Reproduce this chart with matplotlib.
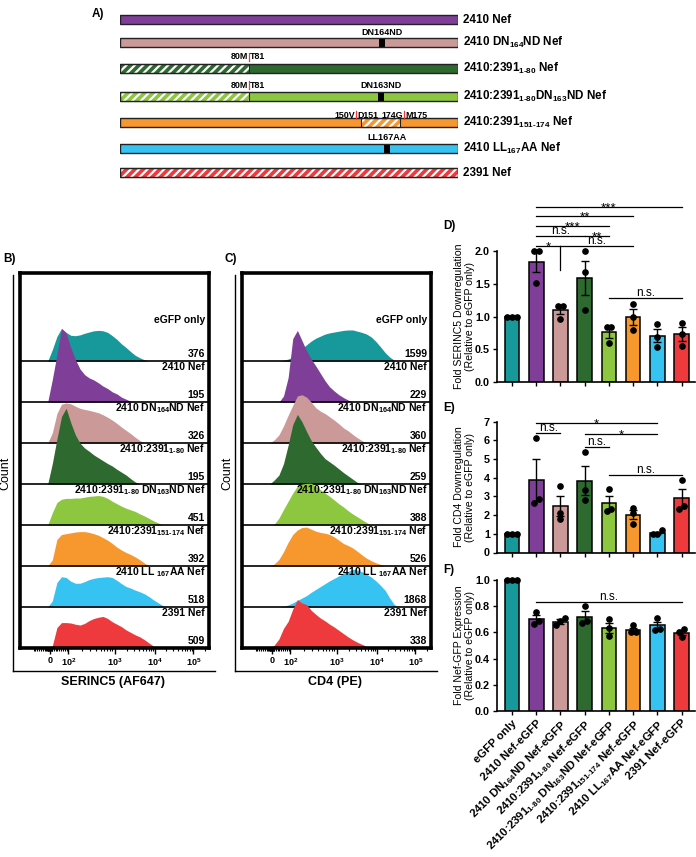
import numpy as np
import matplotlib
matplotlib.use('Agg')
import matplotlib.pyplot as plt
from matplotlib import font_manager
from matplotlib.patches import Rectangle

W, H = 696, 857

names = {f.name for f in font_manager.fontManager.ttflist}
FONT = 'Liberation Sans' if 'Liberation Sans' in names else 'DejaVu Sans'
plt.rcParams['font.family'] = [FONT, 'DejaVu Sans']
plt.rcParams['font.weight'] = 'bold'
plt.rcParams['mathtext.fontset'] = 'custom'
plt.rcParams['mathtext.rm'] = FONT + ':bold'
plt.rcParams['mathtext.bf'] = FONT + ':bold'
plt.rcParams['mathtext.it'] = FONT + ':bold'
plt.rcParams['mathtext.default'] = 'bf'
plt.rcParams['hatch.linewidth'] = 1.6

# ---------------- data ----------------
COLORS = ['#17989a', '#7f3f98', '#cc9999', '#2e6a30', '#8dc63f', '#f7982f', '#36c3f1', '#ee3a3c']

# panel A: Nef constructs (amino-acid coordinates)
NEF_LEN = 210
A_LABELS = ['2410 Nef', '2410 DN$_{164}$ND Nef', '2410:2391$_{1\\text{-}80}$ Nef',
            '2410:2391$_{1\\text{-}80}$DN$_{163}$ND Nef', '2410:2391$_{151\\text{-}174}$ Nef',
            '2410 LL$_{167}$AA Nef', '2391 Nef']
A_HATCH = [None, None, (0, 80), (0, 80), (150, 174), None, (0, 210)]
A_MUT = [None, (163, 'DN164ND'), None, (162, 'DN163ND'), None, (166, 'LL167AA'), None]
A_JUNCTIONS = [[], [], [(80, '80M', 'T81')], [(80, '80M', 'T81')],
               [(150, '150V', 'D151'), (174, '174G', 'M175')], [], []]

# panels B/C: histogram heights (fraction of one lane) on a display-channel grid
CH = [150, 175, 200, 225, 250, 275, 300, 325, 350, 375, 400, 425, 450, 475, 500,
      525, 550, 575, 600, 625, 650, 675, 700, 725, 750, 775, 800, 825, 850]

SER_EGFP = [0, 0.28, 0.6, 0.8, 0.7, 0.63, 0.62, 0.64, 0.68, 0.71, 0.74, 0.75, 0.74, 0.7, 0.62,
            0.53, 0.42, 0.33, 0.23, 0.14, 0.08, 0.03, 0]
SER_2410 = [0, 0.55, 1.16, 1.79, 1.69, 1.33, 1.04, 0.81, 0.67, 0.59, 0.54, 0.47, 0.39, 0.33, 0.25,
            0.2, 0.12, 0.07, 0.02, 0]
SER_DN164 = [0, 0.25, 0.72, 0.95, 0.98, 0.96, 0.9, 0.85, 0.82, 0.8, 0.77, 0.74, 0.69, 0.63, 0.56,
             0.48, 0.39, 0.31, 0.23, 0.14, 0.06, 0]
SER_1_80 = [0, 0.5, 1.1, 1.65, 1.85, 1.5, 1.2, 1.0, 0.88, 0.8, 0.71, 0.64, 0.57, 0.5, 0.44,
            0.36, 0.29, 0.22, 0.13, 0.05, 0]
SER_DN163 = [0, 0.3, 0.55, 0.63, 0.65, 0.65, 0.66, 0.66, 0.68, 0.7, 0.71, 0.72, 0.7, 0.65, 0.58,
             0.52, 0.46, 0.41, 0.37, 0.33, 0.27, 0.22, 0.16, 0.1, 0.05, 0]
SER_151 = [0, 0.15, 0.65, 0.77, 0.79, 0.81, 0.83, 0.84, 0.84, 0.82, 0.79, 0.75, 0.69, 0.63, 0.55,
           0.46, 0.39, 0.33, 0.28, 0.22, 0.15, 0.07, 0]
SER_LL = [0, 0.15, 0.6, 0.74, 0.72, 0.63, 0.58, 0.58, 0.62, 0.67, 0.7, 0.72, 0.73, 0.74, 0.72,
          0.65, 0.57, 0.5, 0.46, 0.41, 0.37, 0.32, 0.25, 0.17, 0.1, 0.03, 0]
SER_2391 = [0, 0.05, 0.5, 0.62, 0.62, 0.61, 0.58, 0.56, 0.6, 0.67, 0.72, 0.75, 0.77, 0.72, 0.64,
            0.58, 0.52, 0.44, 0.38, 0.32, 0.27, 0.2, 0.12, 0.04, 0]

CD4_EGFP = [0, 0, 0, 0.02, 0.05, 0.1, 0.18, 0.3, 0.4, 0.49, 0.56, 0.61, 0.66, 0.69, 0.71,
            0.73, 0.75, 0.76, 0.76, 0.73, 0.7, 0.66, 0.59, 0.48, 0.35, 0.21, 0.1, 0.02, 0]
CD4_2410 = [0, 0, 0, 0.15, 0.6, 1.55, 1.75, 1.5, 1.25, 1.05, 0.88, 0.7, 0.52, 0.37, 0.27,
            0.18, 0.11, 0.05, 0]
CD4_DN164 = [0, 0.08, 0.2, 0.42, 0.68, 0.92, 1.15, 1.18, 1.12, 1.0, 0.86, 0.78, 0.72, 0.64, 0.56,
             0.47, 0.37, 0.3, 0.21, 0.13, 0.06, 0]
CD4_1_80 = [0, 0.1, 0.22, 0.5, 0.95, 1.45, 1.7, 1.52, 1.28, 1.06, 0.9, 0.75, 0.62, 0.54, 0.46,
            0.37, 0.28, 0.2, 0.12, 0.04, 0]
CD4_DN163 = [0, 0.02, 0.17, 0.38, 0.58, 0.78, 0.95, 1.0, 1.02, 1.02, 0.95, 0.86, 0.78, 0.7, 0.61,
             0.52, 0.44, 0.35, 0.27, 0.2, 0.13, 0.06, 0]
CD4_151 = [0, 0.05, 0.16, 0.35, 0.58, 0.77, 0.88, 0.94, 0.95, 0.9, 0.85, 0.82, 0.8, 0.77, 0.71,
           0.63, 0.55, 0.5, 0.44, 0.36, 0.27, 0.19, 0.13, 0.08, 0.04, 0]
CD4_LL = [0, 0, 0, 0.02, 0.05, 0.1, 0.16, 0.22, 0.28, 0.36, 0.43, 0.5, 0.57, 0.64, 0.7,
          0.76, 0.82, 0.87, 0.92, 0.9, 0.86, 0.8, 0.73, 0.64, 0.53, 0.41, 0.22, 0.06, 0]
CD4_2391 = [0, 0.07, 0.22, 0.48, 0.65, 0.95, 1.18, 1.1, 1.06, 0.92, 0.82, 0.73, 0.66, 0.58, 0.51,
            0.43, 0.35, 0.27, 0.2, 0.14, 0.09, 0.04, 0]

LANE_LABELS = ['eGFP only', '2410 Nef', '2410 DN$_{164}$ND Nef', '2410:2391$_{1\\text{-}80}$ Nef',
               '2410:2391$_{1\\text{-}80}$ DN$_{163}$ND Nef', '2410:2391$_{151\\text{-}174}$ Nef',
               '2410 LL $_{167}$AA Nef', '2391 Nef']
SER_MFI = [376, 195, 326, 195, 451, 392, 518, 509]
CD4_MFI = [1599, 229, 360, 259, 388, 526, 1868, 338]

# panels D/E/F: replicate values
BAR_LABELS = ['eGFP only', '2410 Nef-eGFP', '2410 DN$_{164}$ND Nef-eGFP',
              '2410:2391$_{1\\text{-}80}$ Nef-eGFP', '2410:2391$_{1\\text{-}80}$ DN$_{163}$ND Nef-eGFP',
              '2410:2391$_{151\\text{-}174}$ Nef-eGFP', '2410 LL$_{167}$AA Nef-eGFP', '2391 Nef-eGFP']
SER_PTS = [[1.0, 1.0, 1.0], [2.0, 2.0, 1.52], [1.17, 1.16, 0.97], [2.0, 1.68, 1.10],
           [0.845, 0.84, 0.6], [1.2, 1.0, 0.79], [0.89, 0.69, 0.54], [0.91, 0.74, 0.55]]
CD4_PTS = [[1.0, 1.0, 1.0], [6.1, 2.85, 2.67], [3.57, 2.1, 1.8], [5.38, 3.35, 2.79],
           [3.38, 2.3, 2.2], [2.4, 2.1, 1.55], [1.18, 1.0, 1.0], [3.87, 2.5, 2.3]]
NEF_PTS = [[1.0, 1.0, 1.0], [0.756, 0.69, 0.667], [0.71, 0.685, 0.654], [0.80, 0.69, 0.67],
           [0.70, 0.636, 0.57], [0.654, 0.60, 0.60], [0.71, 0.63, 0.62], [0.628, 0.60, 0.564]]

SER_SIG = [(1, 7, 2.68, '***'), (1, 5, 2.54, '**'), (1, 4, 2.39, '***'), (1, 3, 2.23, 'n.s.'),
           (3, 4, 2.23, '**'), (1, 2, 2.08, '*'), (2, 5, 2.08, 'n.s.'), (4, 7, 1.29, 'n.s.')]
CD4_SIG = [(1, 6, 6.95, '*'), (1, 2, 6.38, 'n.s.'), (3, 6, 6.32, '*'), (3, 4, 5.66, 'n.s.'),
           (4, 7, 4.13, 'n.s.')]
NEF_SIG = [(1, 7, 0.833, 'n.s.')]


# ---------------- helpers ----------------
fig = plt.figure(figsize=(W / 100, H / 100), dpi=100)


def px_axes(l, t, r, b):
    return fig.add_axes([l / W, 1 - b / H, (r - l) / W, (b - t) / H])


def label(x, y, s, size=8.5):
    fig.text(x / W, 1 - y / H, s, ha='center', va='center', fontsize=size)


# ---------------- panel A ----------------
axA = px_axes(120, 5, 458, 185)
axA.set_xlim(0, NEF_LEN)
axA.set_ylim(185, 5)
axA.axis('off')
ROW_Y = [19.5, 42.5, 68, 96.5, 122.5, 148, 172.5]
TEXT_DY = [0, -9.7, -11.3, -11.5, -7.5, -11, 0]
JUNCTION_SHIFT = [0, 0, [0], [0], [-3.2, 2.6], 0, 0]
BAR_H = 9
for k, y in enumerate(ROW_Y):
    c = COLORS[k + 1]
    ty = y + TEXT_DY[k]
    axA.add_patch(Rectangle((0, y - BAR_H / 2), NEF_LEN, BAR_H, facecolor=c, edgecolor='none'))
    if A_HATCH[k]:
        a, b = A_HATCH[k]
        axA.add_patch(Rectangle((a, y - BAR_H / 2), b - a, BAR_H, facecolor=c,
                                edgecolor='white', hatch='////', lw=0))
        axA.add_patch(Rectangle((a, y - BAR_H / 2), b - a, BAR_H, fill=False,
                                edgecolor='#222222', lw=0.8))
    if A_MUT[k]:
        pos, txt = A_MUT[k]
        axA.add_patch(Rectangle((pos - 1.9, y - BAR_H / 2), 3.8, BAR_H, facecolor='black', lw=0))
        axA.text(pos, ty, txt, ha='center', va='center', fontsize=6.5)
    for m, (pos, left, right) in enumerate(A_JUNCTIONS[k]):
        lx = pos + JUNCTION_SHIFT[k][m]
        axA.plot([lx, lx], [ty - 4, ty + 4], color='#ee3a3c', lw=0.9)
        axA.text(lx - 0.6, ty, left, ha='right', va='center', fontsize=6.4)
        axA.text(lx + 0.6, ty, right, ha='left', va='center', fontsize=6.4)
    axA.add_patch(Rectangle((0, y - BAR_H / 2), NEF_LEN, BAR_H, fill=False,
                            edgecolor='#222222', lw=1.0))
    axA.text(NEF_LEN + 3, y, A_LABELS[k], ha='left', va='center', fontsize=8.4, clip_on=False)
label(98, 14, 'A)', 8.5)

# ---------------- panels B / C ----------------
DEC_POS = [262, 512, 730, 940]
ZERO_POS = 163


def hist_panel(x0, xlabel, curves, mfi, letter):
    outer = px_axes(x0 - 7, 275, x0 + 195, 671)
    outer.set_facecolor('none')
    for s in ['top', 'right']:
        outer.spines[s].set_visible(False)
    for s in ['left', 'bottom']:
        outer.spines[s].set_linewidth(1.0)
    outer.set_xticks([])
    outer.set_yticks([])
    outer.set_ylabel('Count', fontsize=9, labelpad=1)

    ax = px_axes(x0, 273, x0 + 189, 648)
    ax.set_xlim(0, 1024)
    ax.set_ylim(0, 9.15)
    n = len(curves)
    for i, h in enumerate(curves):
        base = n - 1 - i
        h = np.pad(np.array(h, float), (0, len(CH) - len(h)))
        ax.fill_between(CH, base, base + h, color=COLORS[i], lw=0, zorder=2 + i)
        if base > 0:
            ax.axhline(base, color='black', lw=1.2, zorder=2.5 + i)
        ly = base + (1.0 if i == 0 else 0.85)
        ax.text(1003, ly, LANE_LABELS[i], ha='right', va='center', fontsize=7.5, zorder=30)
        ax.text(1003, base + 0.04, str(mfi[i]), ha='right', va='bottom', fontsize=7.5, zorder=30)
    for s in ax.spines.values():
        s.set_linewidth(2.6)
        s.set_zorder(40)
    ax.set_yticks([])
    ax.set_xticks([ZERO_POS] + DEC_POS)
    ax.set_xticklabels(['0', '$10^2$', '$10^3$', '$10^4$', '$10^5$'], fontsize=6.5)
    minor = []
    for d in range(3):
        for k in range(2, 10):
            minor.append(DEC_POS[d] + (DEC_POS[d + 1] - DEC_POS[d]) * np.log10(k))
    minor.append(DEC_POS[3] + 210 * np.log10(2))
    step = (DEC_POS[0] - ZERO_POS) / 10
    for k in range(1, 10):
        minor += [ZERO_POS + step * k, ZERO_POS - step * k]
    minor += list(np.arange(146, 174, 3))
    ax.set_xticks(minor, minor=True)
    ax.tick_params(axis='x', which='major', length=4, width=1, pad=2)
    ax.tick_params(axis='x', which='minor', length=2.5, width=0.8)
    label(x0 + 93, 682, xlabel, 9)
    label(x0 - 11, 259, letter, 8.5)


hist_panel(20, 'SERINC5 (AF647)',
           [SER_EGFP, SER_2410, SER_DN164, SER_1_80, SER_DN163, SER_151, SER_LL, SER_2391],
           SER_MFI, 'B)')
hist_panel(242, 'CD4 (PE)',
           [CD4_EGFP, CD4_2410, CD4_DN164, CD4_1_80, CD4_DN163, CD4_151, CD4_LL, CD4_2391],
           CD4_MFI, 'C)')


# ---------------- panels D / E / F ----------------
def dot_offsets(vals, tol, step=0.19):
    order = np.argsort(vals)
    offs = np.zeros(len(vals))
    groups = []
    for k in order:
        if groups and abs(vals[k] - vals[groups[-1][-1]]) < tol:
            groups[-1].append(k)
        else:
            groups.append([k])
    for g in groups:
        for m, k in enumerate(g):
            offs[k] = (m - (len(g) - 1) / 2) * step
    return offs


def bar_panel(rect, pts, sig, ylim, ticks, ticklabels, ylabel, tol, letter, letter_y, xlabels=False):
    ax = px_axes(*rect)
    x = np.arange(len(pts))
    arr = np.array(pts)
    mean = arr.mean(axis=1)
    sem = arr.std(axis=1, ddof=1) / np.sqrt(arr.shape[1])
    ax.bar(x, mean, width=0.6, color=COLORS, edgecolor='black', lw=1.1, zorder=2)
    ax.errorbar(x, mean, yerr=sem, fmt='none', ecolor='black', elinewidth=1,
                capsize=2.6, capthick=1, zorder=3)
    for i, v in enumerate(pts):
        ax.plot(i + dot_offsets(np.array(v), tol), v, 'o', color='black', ms=3.8, zorder=4)
    for i, j, y, txt in sig:
        ax.plot([i, j], [y, y], color='black', lw=0.9)
        if '*' in txt:
            ax.annotate(txt, xy=((i + j) / 2, y), xytext=(0, -3.2), textcoords='offset points',
                        ha='center', va='baseline', fontsize=9.6, fontweight='normal')
        else:
            ax.annotate(txt, xy=((i + j) / 2, y), xytext=(0, 1.3), textcoords='offset points',
                        ha='center', va='baseline', fontsize=8.6, fontweight='normal')
    ax.set_xlim(-0.62, 7.55)
    ax.set_ylim(*ylim)
    ax.set_yticks(ticks)
    ax.set_yticklabels(ticklabels, fontsize=7.8)
    ax.spines['left'].set_bounds(ticks[0], ticks[-1])
    for s in ['top', 'right']:
        ax.spines[s].set_visible(False)
    for s in ['left', 'bottom']:
        ax.spines[s].set_linewidth(1.2)
    ax.set_xticks(x)
    if xlabels:
        ax.set_xticklabels(BAR_LABELS, rotation=45, ha='right', rotation_mode='anchor',
                           fontsize=8.2)
    else:
        ax.set_xticklabels([])
    ax.tick_params(length=3, width=1, pad=2)
    ax.set_ylabel(ylabel, fontsize=7.6, linespacing=1.1, ha='center', va='center')
    ax.yaxis.set_label_coords(-0.165, (ticks[0] + ticks[-1]) / 2 / ylim[1])
    label(449, letter_y, letter, 8.5)
    return ax


axD = bar_panel((497, 199, 695, 382), SER_PTS, SER_SIG, (0, 2.8), [0, 0.5, 1.0, 1.5, 2.0],
                ['0.0', '0.5', '1.0', '1.5', '2.0'],
                'Fold SERINC5 Downregulation\n(Relative to eGFP only)', 0.08, 'D)', 226)
axD.plot([2, 2], [2.08, 1.71], color='black', lw=0.9)
bar_panel((497, 416, 695, 552.5), CD4_PTS, CD4_SIG, (0, 7.3), [0, 1, 2, 3, 4, 5, 6, 7],
          ['0', '1', '2', '3', '4', '5', '6', '7'],
          'Fold CD4 Downregulation\n(Relative to eGFP only)', 0.25, 'E)', 408)
bar_panel((497, 573.5, 695, 711), NEF_PTS, NEF_SIG, (0, 1.05), [0, 0.2, 0.4, 0.6, 0.8, 1.0],
          ['0.0', '0.2', '0.4', '0.6', '0.8', '1.0'],
          'Fold Nef-GFP Expression\n(Relative to eGFP only)', 0.035, 'F)', 570, xlabels=True)

fig.savefig('out.png', dpi=100, facecolor='white')
